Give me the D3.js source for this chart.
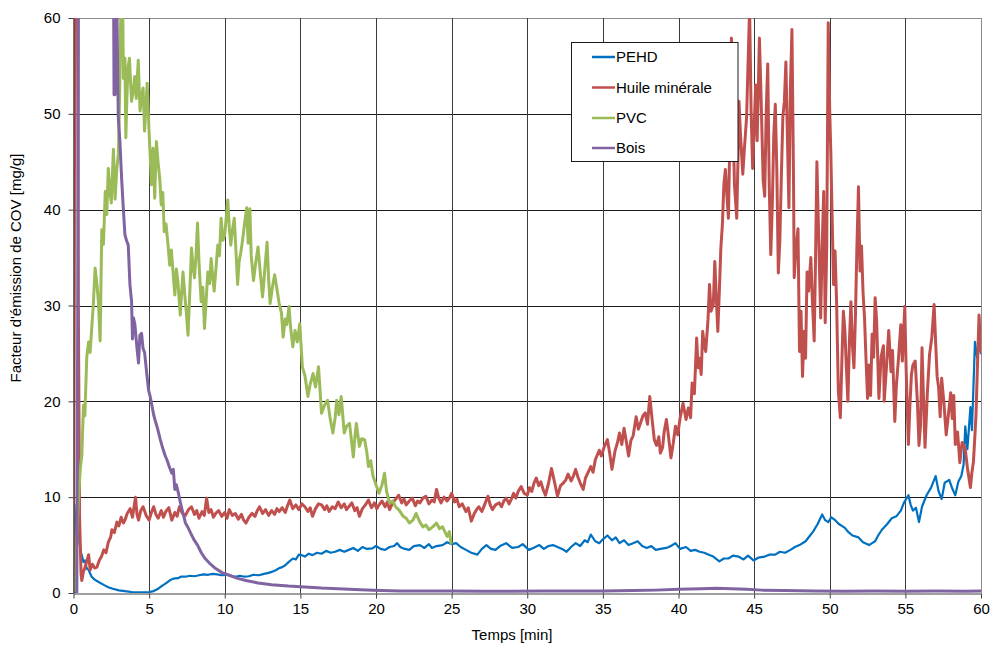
<!DOCTYPE html>
<html><head><meta charset="utf-8">
<script src="https://cdn.jsdelivr.net/npm/d3@7"></script>
<style>
html,body{margin:0;padding:0;background:#fff;}
svg{display:block;font-family:"Liberation Sans",Arial,sans-serif;}
</style></head>
<body><svg id="c" width="992" height="646"></svg>
<script>
const seriesNames = ["PEHD", "Huile minérale", "PVC", "Bois"];
const seriesColors = ["#0070C0", "#C0504D", "#9BBB59", "#8064A2"];
const xTicks = [0,5,10,15,20,25,30,35,40,45,50,55,60];
const yTicks = [0,10,20,30,40,50,60];

const pehd = [[0,0],[0.1,6],[0.2,9.2],[0.3,7.5],[0.4,5.2],[0.5,4.2],[0.66,3.25],[0.75,3.4],[0.88,2.55],[1.0,2.4],[1.2,1.7],[1.4,1.4],[1.66,1.15],[2.0,0.85],[2.3,0.6],[2.6,0.45],[3.0,0.28],[3.4,0.2],[3.86,0.1],[4.4,0.08],[5.0,0.1],[5.3,0.2],[5.6,0.45],[5.85,0.75],[6.1,1.0],[6.35,1.3],[6.6,1.5],[6.9,1.55],[7.1,1.7],[7.4,1.7],[7.7,1.8],[8.0,1.75],[8.3,1.85],[8.6,1.95],[8.9,1.9],[9.2,2.0],[9.5,1.95],[9.8,1.85],[10.1,1.9],[10.4,1.8],[10.7,1.7],[11.0,1.8],[11.3,1.7],[11.6,1.75],[11.9,1.9],[12.25,1.85],[12.6,2.0],[12.9,2.1],[13.1,2.2],[13.4,2.4],[13.6,2.6],[13.8,2.7],[14.0,2.9],[14.2,3.2],[14.5,3.6],[14.7,3.5],[14.9,4.0],[15.1,3.95],[15.3,3.8],[15.55,4.1],[15.8,3.95],[16.1,4.2],[16.4,4.1],[16.7,4.4],[17.0,4.2],[17.3,4.3],[17.6,4.5],[17.9,4.3],[18.2,4.5],[18.5,4.7],[18.8,4.4],[19.1,4.8],[19.4,4.6],[19.76,4.65],[20.0,4.9],[20.3,4.6],[20.6,4.5],[20.9,4.8],[21.2,4.9],[21.4,5.2],[21.6,4.8],[21.9,4.6],[22.2,4.5],[22.5,4.9],[22.9,5.0],[23.2,4.7],[23.5,5.1],[23.7,4.7],[24.0,4.9],[24.4,5.0],[24.7,5.3],[25.0,5.1],[25.3,5.2],[25.6,4.8],[25.95,4.5],[26.3,4.2],[26.7,4.0],[27.0,4.6],[27.3,5.0],[27.6,4.6],[27.9,4.5],[28.2,4.9],[28.6,5.2],[29.0,4.7],[29.4,4.8],[29.7,5.1],[30.1,4.5],[30.4,4.7],[30.8,5.0],[31.1,4.6],[31.4,4.9],[31.7,5.0],[32.0,4.8],[32.3,4.6],[32.6,4.3],[32.9,4.8],[33.2,5.2],[33.5,4.9],[33.8,5.5],[34.0,5.3],[34.2,6.1],[34.5,5.4],[34.76,5.2],[35.0,5.6],[35.3,6.0],[35.6,5.5],[35.85,5.8],[36.1,5.2],[36.4,5.5],[36.7,5.0],[37.0,5.2],[37.3,5.4],[37.6,4.9],[37.9,4.7],[38.2,4.9],[38.5,4.5],[38.8,4.6],[39.2,4.7],[39.5,4.9],[39.8,5.2],[40.1,4.6],[40.5,4.8],[40.8,4.4],[41.1,4.5],[41.4,4.3],[41.7,4.2],[42.0,4.0],[42.3,3.8],[42.7,3.3],[43.0,3.6],[43.3,3.6],[43.6,3.9],[43.96,3.8],[44.3,3.5],[44.6,3.9],[44.96,3.4],[45.3,3.7],[45.7,3.8],[46.0,4.0],[46.4,4.0],[46.7,4.3],[47.05,4.2],[47.4,4.5],[47.7,4.8],[48.0,5.0],[48.4,5.4],[48.7,6.0],[48.9,6.4],[49.2,7.2],[49.5,8.2],[49.7,7.6],[49.9,7.4],[50.1,7.9],[50.36,7.6],[50.6,7.2],[50.8,7.0],[51.0,6.8],[51.2,6.4],[51.5,6.0],[51.9,5.8],[52.2,5.3],[52.6,5.0],[52.8,5.2],[53.0,5.4],[53.2,6.0],[53.45,6.6],[53.8,7.2],[54.1,7.8],[54.4,8.0],[54.7,8.6],[54.9,9.4],[55.2,10.2],[55.35,9.2],[55.5,8.6],[55.7,8.9],[55.9,7.4],[56.1,9.0],[56.4,10.2],[56.7,11.0],[57.0,12.2],[57.2,10.6],[57.4,9.8],[57.6,11.5],[57.9,11.8],[58.1,10.9],[58.3,10.2],[58.5,11.6],[58.7,12.2],[58.85,13.4],[58.96,17.4],[59.1,15.0],[59.3,19.4],[59.4,17.0],[59.5,21.5],[59.6,26.2],[59.75,24.5],[59.85,25.8],[60,25]];

const huile = [[0,0],[0.05,30],[0.1,80],[0.25,80],[0.32,30],[0.4,8],[0.5,2],[0.55,1.3],[0.65,2.2],[0.77,2.7],[0.9,3.4],[1.0,4],[1.1,2.4],[1.25,3.0],[1.4,2.6],[1.55,2.7],[1.7,3.4],[1.85,3.8],[2.0,4.5],[2.15,4.2],[2.3,5.3],[2.45,5.8],[2.54,6.6],[2.7,6.3],[2.87,7.4],[3.0,7.0],[3.15,7.9],[3.3,7.3],[3.4,7.6],[3.55,8.3],[3.75,8.8],[3.9,7.9],[4.1,10],[4.2,8.2],[4.3,7.6],[4.45,8.6],[4.6,9],[4.8,8.1],[5.0,7.6],[5.15,8.4],[5.3,9],[5.45,8.2],[5.6,7.8],[5.8,8.6],[5.95,7.9],[6.1,8.5],[6.3,8.9],[6.5,7.6],[6.7,8.4],[6.85,8.0],[7.0,9],[7.2,8.3],[7.4,8.1],[7.6,8.7],[7.8,9],[8.0,8.2],[8.15,8.6],[8.3,7.8],[8.5,8.5],[8.65,8.1],[8.8,9.9],[8.95,8.4],[9.1,8.7],[9.25,7.9],[9.4,8.3],[9.6,8.6],[9.8,8],[10.0,8.4],[10.15,7.8],[10.3,8.7],[10.5,8.1],[10.7,8.3],[10.9,7.7],[11.1,8.2],[11.25,7.6],[11.4,7.3],[11.6,7.9],[11.8,8.3],[12.0,8.0],[12.15,8.6],[12.3,9],[12.5,8.3],[12.7,8.7],[12.9,8.1],[13.1,8.6],[13.3,8.2],[13.45,8.8],[13.6,8.5],[13.8,8.9],[14.0,8.4],[14.15,9.1],[14.3,9.7],[14.5,8.8],[14.7,9.2],[14.9,8.7],[15.1,9.3],[15.3,9],[15.5,8.5],[15.65,8.9],[15.8,8],[16.0,8.8],[16.2,9.3],[16.4,9.2],[16.6,8.7],[16.75,9.1],[16.9,8.5],[17.1,9.0],[17.3,8.8],[17.5,9.5],[17.7,8.9],[17.9,9.3],[18.05,8.7],[18.2,9],[18.4,9.4],[18.6,8.6],[18.75,8.9],[18.9,8],[19.1,8.8],[19.3,9.2],[19.5,9.7],[19.7,8.9],[19.9,9.4],[20.05,8.8],[20.2,9.2],[20.4,9.6],[20.6,9.0],[20.75,9.5],[20.9,8.7],[21.1,9.4],[21.3,9.8],[21.5,10.2],[21.7,9.4],[21.85,9.8],[22.0,9.2],[22.2,9.6],[22.4,9.9],[22.6,9.1],[22.75,9.6],[22.9,9.4],[23.1,9.9],[23.3,10.1],[23.5,9.3],[23.7,9.7],[23.85,9.5],[24.0,10.8],[24.15,9.9],[24.3,9.4],[24.5,10],[24.7,9.6],[24.85,9.9],[25.0,10.4],[25.2,9.5],[25.35,9.8],[25.5,9.0],[25.7,9.3],[25.95,8.5],[26.1,8.9],[26.3,7.5],[26.5,8.3],[26.65,8.7],[26.8,9],[27.0,8.5],[27.2,9.3],[27.4,10.1],[27.55,9.2],[27.7,8.7],[27.9,9.2],[28.15,9.4],[28.3,9.0],[28.45,9.6],[28.6,9.9],[28.8,9.3],[28.95,9.8],[29.1,10.4],[29.25,9.9],[29.4,10.6],[29.6,11.1],[29.8,10.4],[30.0,10.2],[30.15,11],[30.3,10.6],[30.45,11.5],[30.6,12],[30.75,11.2],[30.9,11.6],[31.05,10.8],[31.2,10.2],[31.4,11.4],[31.6,13],[31.8,11.6],[32.0,10.1],[32.2,11.2],[32.4,11.5],[32.55,11.8],[32.7,12.4],[32.9,11.7],[33.05,12.2],[33.2,12.9],[33.35,12.1],[33.5,11.5],[33.7,10.8],[33.85,12],[34.0,12.5],[34.2,13.2],[34.35,12.6],[34.5,13.9],[34.76,14.9],[34.9,14.3],[35.1,15.3],[35.3,16],[35.45,14.6],[35.6,12.9],[35.8,14.8],[35.95,15.6],[36.1,16.7],[36.25,15.5],[36.4,17.2],[36.55,15.8],[36.7,14.3],[36.85,15.9],[37.0,16.4],[37.2,18.4],[37.35,17.1],[37.5,17.8],[37.65,18.5],[37.8,18.8],[37.95,17.6],[38.1,20.5],[38.25,18.2],[38.4,16],[38.55,15.4],[38.7,16.3],[38.8,14.6],[38.95,15.2],[39.05,16.8],[39.2,18.1],[39.35,16.2],[39.5,14.1],[39.65,15.6],[39.8,17.4],[39.95,16.5],[40.1,18.2],[40.3,19.8],[40.5,18.1],[40.65,19.3],[40.8,18.3],[40.9,21.9],[41.05,20.8],[41.2,26.6],[41.3,23.5],[41.4,24.5],[41.5,22.8],[41.6,27.3],[41.7,25.9],[41.8,25.2],[41.95,28.5],[42.05,32.2],[42.15,29.4],[42.3,30.1],[42.4,34.6],[42.5,30.8],[42.6,27.3],[42.7,31.5],[42.8,36],[42.9,38.4],[43.0,42.6],[43.1,44.2],[43.2,41.5],[43.3,39.1],[43.4,48],[43.5,57.9],[43.6,50.2],[43.7,42.6],[43.85,39.1],[43.95,46.5],[44.0,51.3],[44.1,47.8],[44.25,43.7],[44.35,46.2],[44.5,49.6],[44.6,55.3],[44.7,61],[44.8,50.4],[44.9,44.3],[45.0,48.5],[45.1,53],[45.2,47.2],[45.35,57.9],[45.45,52.3],[45.6,43],[45.7,41.4],[45.8,50.3],[45.9,55.2],[46.0,42.5],[46.1,35.3],[46.2,40.4],[46.3,47.8],[46.4,51],[46.5,44.2],[46.6,33.4],[46.7,36.8],[46.8,43.5],[46.9,49.7],[47.0,51.3],[47.1,55.4],[47.2,47.6],[47.3,40.2],[47.4,52.8],[47.5,58.8],[47.6,44],[47.65,32.9],[47.75,35.6],[47.9,38],[48.0,25.2],[48.1,29.4],[48.2,22.6],[48.3,27.3],[48.4,24.5],[48.5,33.5],[48.6,31.5],[48.75,35],[48.85,30.6],[48.97,26.3],[49.05,33.8],[49.15,45],[49.25,38.4],[49.4,28.7],[49.5,36.2],[49.6,41.9],[49.7,28.2],[49.8,36],[49.9,59.5],[50.0,50.2],[50.07,46.1],[50.15,39.8],[50.25,32.2],[50.35,35.7],[50.45,30.5],[50.57,21],[50.7,18.3],[50.8,24.1],[50.9,29.4],[51.0,27.4],[51.1,23.5],[51.2,20],[51.3,26.2],[51.4,30.4],[51.5,25.8],[51.6,23.5],[51.7,29],[51.8,36.4],[51.9,42.4],[52.0,33.6],[52.1,36.2],[52.2,31.4],[52.3,28.7],[52.4,24.3],[52.5,20.3],[52.6,23.8],[52.7,20.6],[52.8,27],[52.9,24.6],[53.0,30.8],[53.1,28.4],[53.25,20.3],[53.4,24.7],[53.55,25.8],[53.6,20],[53.75,23.6],[53.9,27.4],[54.05,23.1],[54.15,25.3],[54.3,17.9],[54.4,21.5],[54.55,24.6],[54.7,28],[54.8,24.2],[54.96,29.9],[55.05,23.4],[55.2,15.5],[55.3,19.6],[55.4,22.8],[55.5,23.8],[55.65,24.2],[55.8,19.7],[55.9,15.4],[56.0,17.5],[56.1,25.6],[56.2,20.3],[56.3,15.2],[56.45,20.8],[56.6,24.9],[56.75,26.7],[56.9,30.1],[57.0,26.2],[57.1,22.6],[57.2,21.4],[57.3,18.4],[57.4,22.4],[57.55,19.8],[57.7,16.5],[57.85,18.7],[58.0,20.9],[58.1,18.2],[58.2,20.6],[58.3,15.5],[58.45,16.8],[58.6,13.6],[58.75,15.7],[58.95,15.1],[59.1,13.1],[59.3,11],[59.4,12.6],[59.5,13.7],[59.6,16.5],[59.67,18.6],[59.75,22.9],[59.87,29],[59.95,26.4],[60.0,25.2]];

const pvc = [[0,0],[0.1,0],[0.2,5],[0.33,10],[0.45,13],[0.55,14.4],[0.66,19.6],[0.75,18.5],[0.88,24.7],[1.0,26.2],[1.1,25.1],[1.2,27.5],[1.3,29.8],[1.43,33.9],[1.55,32.2],[1.65,30.3],[1.76,26.3],[1.87,37.9],[1.98,36.4],[2.1,41.9],[2.2,39.5],[2.3,44.3],[2.4,42.1],[2.5,40.7],[2.57,43.5],[2.64,46.3],[2.75,41.1],[2.85,44],[2.97,45.9],[3.05,52],[3.12,60],[3.18,70],[3.25,62],[3.3,53.7],[3.4,55.8],[3.46,47.5],[3.53,51.6],[3.6,54.8],[3.7,55.8],[3.77,53.4],[3.84,51.3],[3.95,52.4],[4.05,53.9],[4.15,51.6],[4.28,55.6],[4.4,50.3],[4.5,51.8],[4.6,52.7],[4.7,48.2],[4.78,50.6],[4.87,53.2],[5.0,48],[5.08,45.3],[5.15,42.6],[5.26,46.4],[5.37,41.2],[5.48,47.1],[5.6,44.8],[5.7,43.3],[5.8,40.5],[5.9,41.8],[6.0,37.7],[6.12,38.5],[6.25,36.3],[6.36,34.2],[6.47,35.8],[6.58,33.5],[6.7,31.1],[6.8,33.8],[6.9,32.5],[7.06,29],[7.15,31.4],[7.24,33.5],[7.35,31.2],[7.45,29.5],[7.57,26.9],[7.7,31.8],[7.8,36],[7.9,34.1],[8.0,32.9],[8.1,35.2],[8.2,38.6],[8.3,34.4],[8.44,30.4],[8.55,31.9],[8.66,27.6],[8.77,30.5],[8.88,33.5],[9.0,32.3],[9.1,34.9],[9.2,33.1],[9.3,31.5],[9.42,33.9],[9.54,36.3],[9.65,35.2],[9.76,39.1],[9.88,36.8],[10.0,37.4],[10.1,39.2],[10.2,41],[10.3,38.1],[10.4,36.3],[10.5,37.8],[10.63,39.1],[10.75,35.4],[10.85,32.2],[10.95,34.6],[11.07,35.6],[11.2,37.1],[11.3,38.4],[11.45,40.2],[11.55,36.5],[11.66,40.1],[11.75,35.2],[11.9,32.6],[12.05,34.5],[12.2,36.1],[12.35,33.4],[12.5,30.9],[12.65,33.8],[12.8,36.6],[12.9,32.8],[13.0,30.2],[13.15,31.9],[13.3,33.2],[13.45,31.7],[13.6,30.2],[13.75,29.2],[13.86,26.7],[14.0,28.6],[14.1,28],[14.25,29.9],[14.35,27.8],[14.5,25.7],[14.65,27.4],[14.8,26.2],[14.96,28.1],[15.13,23.6],[15.3,22.7],[15.5,20.5],[15.65,21.8],[15.84,22.9],[16.0,21.5],[16.2,23.6],[16.4,18.75],[16.6,19.6],[16.8,20.1],[16.95,18.4],[17.15,16.7],[17.3,18.3],[17.4,20.1],[17.55,18.6],[17.7,20.5],[17.9,16.7],[18.05,17.4],[18.25,17.7],[18.5,14.2],[18.6,16.2],[18.7,17.7],[18.9,15.3],[19.05,16.1],[19.25,16],[19.4,14.6],[19.5,13.2],[19.65,13.8],[19.8,12.2],[20.0,11.3],[20.2,10.4],[20.4,11.3],[20.56,12.5],[20.7,10.6],[20.9,9.4],[21.1,9.6],[21.3,9.0],[21.55,8.6],[21.8,8],[22.0,7.8],[22.2,7.3],[22.45,7.6],[22.65,8.3],[22.9,7.4],[23.1,6.9],[23.3,7.1],[23.5,6.6],[23.75,6.9],[24.0,7.3],[24.2,6.7],[24.4,6.9],[24.55,6.4],[24.7,5.9],[24.85,6.4],[24.96,5.2]];

const bois = [[0,0],[0.22,0],[0.3,40],[0.35,80],[2.6,80],[2.68,52],[2.74,52],[2.8,80],[2.88,60],[2.96,49.6],[3.07,47.1],[3.18,43.3],[3.29,40.2],[3.4,37.4],[3.5,36.8],[3.62,36.3],[3.73,32.2],[3.84,30.4],[3.9,26.5],[3.97,28.7],[4.06,28],[4.2,25.5],[4.3,24],[4.39,26.9],[4.5,27.1],[4.6,25.5],[4.7,25.1],[4.85,22.8],[4.96,21.2],[5.07,20.5],[5.18,19.6],[5.3,18.6],[5.4,18],[5.55,17.2],[5.74,16],[5.9,15.1],[6.07,14.3],[6.2,13.8],[6.35,13.1],[6.5,12.5],[6.6,12.9],[6.7,10.8],[6.8,11.3],[6.94,10.4],[7.06,9.5],[7.16,8.8],[7.28,8.1],[7.4,7.3],[7.55,6.9],[7.7,6.4],[7.95,5.6],[8.2,5],[8.45,4.2],[8.7,3.6],[9.0,3.1],[9.4,2.55],[9.85,2.1],[10.3,1.85],[10.8,1.55],[11.4,1.3],[12.2,1.05],[13.1,0.87],[14.2,0.72],[15.3,0.63],[16.4,0.52],[17.5,0.45],[18.6,0.36],[19.8,0.28],[21.6,0.21],[23,0.22],[25,0.2],[27,0.18],[29,0.18],[31,0.2],[33,0.2],[35,0.22],[37,0.25],[38.5,0.3],[40,0.38],[41.5,0.45],[42.5,0.5],[43.5,0.45],[44.5,0.38],[45.5,0.3],[47,0.25],[49,0.2],[51,0.18],[53,0.2],[55,0.18],[57,0.2],[59,0.18],[60,0.2]];

const seriesData = [pehd, huile, pvc, bois];
const seriesWidths = [2.2, 3, 3, 3];

const svg = d3.select("#c");
const L = 73.5, R = 981, T = 18, B = 593;
const x = d3.scaleLinear().domain([0,60]).range([L,R]);
const y = d3.scaleLinear().domain([0,60]).range([B,T]);

svg.append("defs").append("clipPath").attr("id","pc")
  .append("rect").attr("x",L).attr("y",T).attr("width",R-L).attr("height",B-T);

// gridlines
const g = svg.append("g");
g.selectAll("line.h").data(yTicks.filter(d=>d>0)).join("line")
  .attr("x1",L).attr("x2",R).attr("y1",d=>Math.round(y(d))+0.5).attr("y2",d=>Math.round(y(d))+0.5)
  .attr("stroke",d=>d===60?"#8c8c8c":"#1a1a1a").attr("stroke-width",1);
g.selectAll("line.v").data(xTicks.filter(d=>d>0)).join("line")
  .attr("y1",T).attr("y2",B).attr("x1",d=>Math.round(x(d))+0.5).attr("x2",d=>Math.round(x(d))+0.5)
  .attr("stroke",d=>d===60?"#8c8c8c":"#3a3a3a").attr("stroke-width",1);

// series
const line = d3.line().x(d=>x(d[0])).y(d=>y(d[1]));
const sg = svg.append("g").attr("clip-path","url(#pc)");
seriesData.forEach((s,i)=>{
  sg.append("path").datum(s).attr("d",line).attr("fill","none")
    .attr("stroke",seriesColors[i]).attr("stroke-width",seriesWidths[i])
    .attr("stroke-linejoin","round").attr("stroke-linecap","round");
});

// axes
const xa = svg.append("g").attr("transform",`translate(0,${B+0.5})`)
  .call(d3.axisBottom(x).tickValues(xTicks).tickSize(5).tickSizeOuter(0).tickPadding(5));
const ya = svg.append("g").attr("transform",`translate(${L},0)`)
  .call(d3.axisLeft(y).tickValues(yTicks).tickSize(5).tickSizeOuter(0).tickPadding(8));
[xa,ya].forEach(a=>{
  a.select(".domain").attr("stroke","#404040").attr("stroke-width",1.2);
  a.selectAll(".tick line").attr("stroke","#404040");
  a.selectAll("text").attr("fill","#000").style("font-size","15px").style("font-family","'Liberation Sans',Arial,sans-serif");
});

// axis titles
svg.append("text").attr("x",512).attr("y",640).attr("text-anchor","middle")
  .style("font-size","15px").text("Temps  [min]");
svg.append("text").attr("transform","translate(21,268) rotate(-90)").attr("text-anchor","middle")
  .style("font-size","15px").text("Facteur d'émission de COV [mg/g]");

// legend
const lg = svg.append("g");
lg.append("rect").attr("x",571.5).attr("y",42.5).attr("width",166.5).attr("height",119)
  .attr("fill","#fff").attr("stroke","#1a1a1a").attr("stroke-width",1);
const ly = [57, 87.5, 118, 148];
seriesNames.forEach((n,i)=>{
  lg.append("line").attr("x1",592).attr("x2",615).attr("y1",ly[i]).attr("y2",ly[i])
    .attr("stroke",seriesColors[i]).attr("stroke-width",2.5);
  lg.append("text").attr("x",616).attr("y",ly[i]).attr("dy","0.36em")
    .style("font-size","15px").text(n);
});
</script></body></html>
